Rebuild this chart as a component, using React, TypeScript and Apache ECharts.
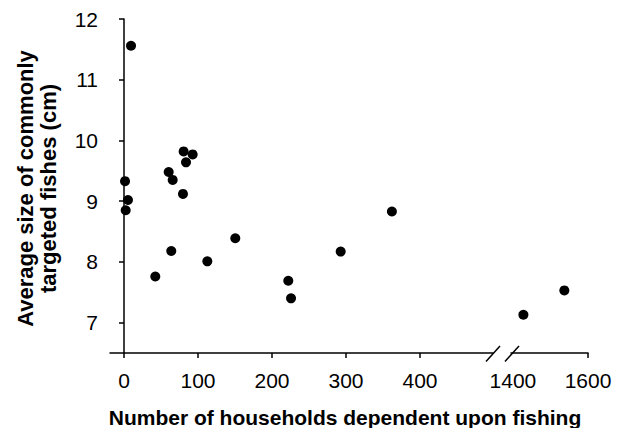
import React, { useEffect, useRef } from "react";
import * as echarts from "echarts";

// Left segment (0–400 households)
const leftX = [9.5, 1.4, 5.4, 2.3, 80.6, 92.8, 83.8, 60.4, 65.8, 79.7, 42.3, 63.9, 112.6, 150.4, 222, 225.7, 292.8, 362];
const leftY = [11.56, 9.33, 9.02, 8.85, 9.82, 9.77, 9.64, 9.48, 9.35, 9.12, 7.76, 8.18, 8.01, 8.39, 7.69, 7.4, 8.17, 8.83];
// Right segment (1400–1600 households)
const rightX = [1428, 1537];
const rightY = [7.13, 7.53];

const leftTicks = [0, 100, 200, 300, 400];
const rightTicks = [1600];
const rightLabels = [1400, 1600];
const yTicks = [7, 8, 9, 10, 11, 12];

const xTitle = "Number of households dependent upon fishing";
const yTitle = "Average size of commonly\ntargeted fishes (cm)";

const FONT = "Liberation Sans, Arial, sans-serif";

export default function App() {
  const ref = useRef<HTMLDivElement>(null);
  useEffect(() => {
    if (!ref.current) return;
    const chart = echarts.init(ref.current, null, { renderer: "svg" });
    const axisLine = { show: true, lineStyle: { color: "#000", width: 1.5 } };
    const axisTick = (vals: number[]) => ({
      show: true,
      length: 5,
      customValues: vals,
      lineStyle: { color: "#000", width: 1.5 },
    });
    const labelStyle = {
      color: "#000",
      fontSize: 21,
      fontFamily: FONT,
      formatter: (v: number) => String(v),
    };
    chart.setOption({
      animation: false,
      backgroundColor: "#fff",
      grid: [
        { left: 110, top: 19, width: 383, height: 334 },
        { left: 511, top: 19, width: 77, height: 334 },
      ],
      xAxis: [
        {
          type: "value",
          gridIndex: 0,
          min: -18.9,
          max: 498.6,
          axisLine,
          axisTick: axisTick(leftTicks),
          axisLabel: { ...labelStyle, margin: 17, customValues: leftTicks },
          splitLine: { show: false },
        },
        {
          type: "value",
          gridIndex: 1,
          min: 1395,
          max: 1600,
          axisLine,
          axisTick: axisTick(rightTicks),
          axisLabel: { ...labelStyle, margin: 17, customValues: rightLabels, showMinLabel: true, showMaxLabel: true },
          splitLine: { show: false },
        },
      ],
      yAxis: [
        {
          type: "value",
          gridIndex: 0,
          min: 6.5,
          max: 12,
          axisLine,
          axisTick: axisTick(yTicks),
          axisLabel: { ...labelStyle, margin: 12, customValues: yTicks },
          splitLine: { show: false },
        },
        {
          type: "value",
          gridIndex: 1,
          min: 6.5,
          max: 12,
          show: false,
          splitLine: { show: false },
        },
      ],
      series: [
        {
          type: "scatter",
          xAxisIndex: 0,
          yAxisIndex: 0,
          symbolSize: 10,
          itemStyle: { color: "#000", opacity: 1 },
          data: leftX.map((x, i) => [x, leftY[i]]),
        },
        {
          type: "scatter",
          xAxisIndex: 1,
          yAxisIndex: 1,
          symbolSize: 10,
          itemStyle: { color: "#000", opacity: 1 },
          data: rightX.map((x, i) => [x, rightY[i]]),
        },
      ],
      graphic: [
        {
          type: "line",
          shape: { x1: 486, y1: 361.5, x2: 500, y2: 346 },
          style: { stroke: "#000", lineWidth: 1.5 },
        },
        {
          type: "line",
          shape: { x1: 505, y1: 361.5, x2: 519, y2: 346 },
          style: { stroke: "#000", lineWidth: 1.5 },
        },
        {
          type: "text",
          x: 345,
          y: 417,
          style: {
            text: xTitle,
            fill: "#000",
            font: `bold 21px ${FONT}`,
            textAlign: "center",
            textVerticalAlign: "middle",
          },
        },
        {
          type: "text",
          x: 36.5,
          y: 188.5,
          rotation: Math.PI / 2,
          style: {
            text: yTitle,
            fill: "#000",
            font: `bold 22px ${FONT}`,
            lineHeight: 23,
            textAlign: "center",
            textVerticalAlign: "middle",
          },
        },
      ],
    });
    return () => chart.dispose();
  }, []);
  return <div ref={ref} style={{ width: 622, height: 428, position: "fixed", left: 0, top: 0 }} />;
}
